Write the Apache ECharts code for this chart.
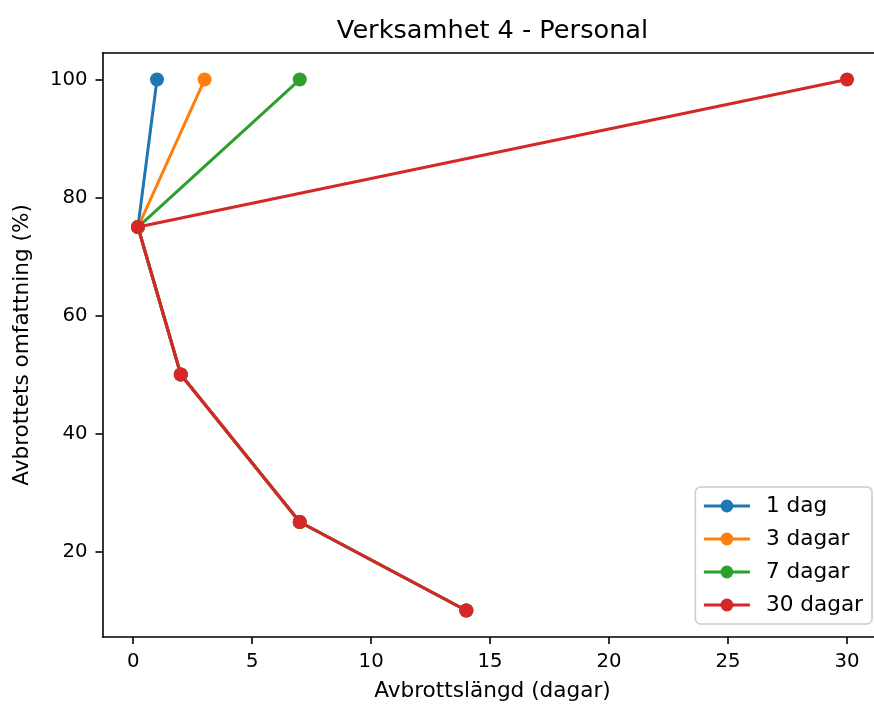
<!DOCTYPE html>
<html>
<head>
<meta charset="utf-8">
<script src="https://cdn.jsdelivr.net/npm/echarts@6/dist/echarts.min.js"></script>
<style>
html,body{margin:0;padding:0;background:#fff;overflow:hidden;}
#chart{width:874px;height:704px;}
</style>
</head>
<body>
<div id="chart"></div>
<script>
// Data
const seriesNames = ['1 dag', '3 dagar', '7 dagar', '30 dagar'];
const xShared = [14, 7, 2, 0.2];          // Avbrottslängd (dagar) for the shared points
const yShared = [10, 25, 50, 75];         // Avbrottets omfattning (%)
const xTop = [1, 3, 7, 30];               // x at 100 % per series
const yTop = 100;
const xTicks = [0, 5, 10, 15, 20, 25, 30];
const yTicks = [20, 40, 60, 80, 100];
const colors = ['#1f77b4', '#ff7f0e', '#2ca02c', '#d62728'];

const FONT = 'DejaVu Sans';
const chart = echarts.init(document.getElementById('chart'), null, {renderer: 'canvas', width: 874, height: 704});

const series = seriesNames.map((name, i) => {
  const data = xShared.map((x, j) => [x, yShared[j]]);
  data.push([xTop[i], yTop]);
  return {
    name: name,
    type: 'line',
    data: data,
    symbol: 'circle',
    symbolSize: 14,
    showSymbol: true,
    color: colors[i],
    lineStyle: {width: 3, color: colors[i]},
    itemStyle: {color: colors[i]},
    z: 2 + i
  };
});

const X_MIN = -1.29, X_MAX = 31.49;

chart.setOption({
  animation: false,
  backgroundColor: '#ffffff',
  title: {
    text: 'Verksamhet 4 - Personal',
    left: 487.5,
    textAlign: 'center',
    top: 13,
    padding: 5,
    textStyle: {fontFamily: FONT, fontSize: 25.6, fontWeight: 'normal', color: '#000'}
  },
  grid: {
    left: 102.5, top: 53, width: 780, height: 584,
    outerBoundsMode: 'none',
    containLabel: false,
    show: false
  },
  legend: {
    orient: 'vertical',
    right: 2,
    bottom: 80,
    itemWidth: 46,
    itemHeight: 16,
    itemGap: 11,
    padding: [8, 9, 8, 7],
    backgroundColor: '#fff',
    borderColor: '#cccccc',
    borderWidth: 1.5,
    borderRadius: 5,
    lineStyle: {width: 3},
    textStyle: {fontFamily: FONT, fontSize: 21.6, color: '#000', padding: [0, 0, 0, 11]},
    data: seriesNames
  },
  xAxis: [{
    type: 'value',
    min: X_MIN,
    max: X_MAX,
    name: 'Avbrottslängd (dagar)',
    nameLocation: 'middle',
    nameGap: 43,
    nameTextStyle: {fontFamily: FONT, fontSize: 21.6, color: '#000'},
    axisLine: {show: true, onZero: false, lineStyle: {color: '#000', width: 1.6}},
    axisTick: {show: true, inside: false, length: 7, customValues: xTicks, lineStyle: {color: '#000', width: 1.6}},
    axisLabel: {show: true, margin: 15, customValues: xTicks, fontFamily: FONT, fontSize: 19.7, color: '#000'},
    splitLine: {show: false}
  }, {
    type: 'value',
    position: 'top',
    min: X_MIN,
    max: X_MAX,
    axisLine: {show: true, onZero: false, lineStyle: {color: '#000', width: 1.6}},
    axisTick: {show: false},
    axisLabel: {show: false},
    splitLine: {show: false}
  }],
  yAxis: {
    type: 'value',
    min: 5.5,
    max: 104.5,
    name: 'Avbrottets omfattning (%)',
    nameLocation: 'middle',
    nameGap: 69,
    nameRotate: 90,
    nameTextStyle: {fontFamily: FONT, fontSize: 21.6, color: '#000'},
    axisLine: {show: true, onZero: false, lineStyle: {color: '#000', width: 1.6}},
    axisTick: {show: true, inside: false, length: 7, customValues: yTicks, lineStyle: {color: '#000', width: 1.6}},
    axisLabel: {show: true, margin: 15, customValues: yTicks, fontFamily: FONT, fontSize: 19.7, color: '#000'},
    splitLine: {show: false}
  },
  series: series
});
</script>
</body>
</html>
